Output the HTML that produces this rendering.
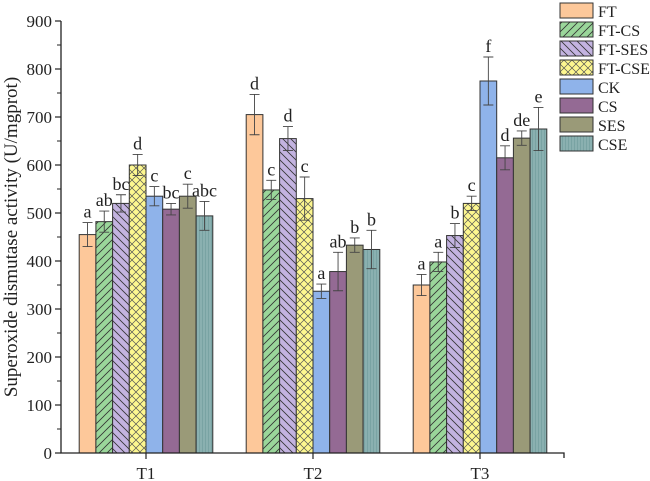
<!DOCTYPE html>
<html><head><meta charset="utf-8"><style>
body{margin:0;background:#fff}
svg{display:block;font-family:"Liberation Serif",serif}
</style></head><body>
<svg id="c" width="650" height="481">
<defs>
<pattern id="p-fwd" width="8" height="8" patternUnits="userSpaceOnUse"><rect width="8" height="8" fill="#9ad69a"/><path d="M0,8 L8,0 M-2,2 L2,-2 M6,10 L10,6" stroke="#333" stroke-width="0.8"/></pattern>
<pattern id="p-back" width="8" height="8" patternUnits="userSpaceOnUse"><rect width="8" height="8" fill="#c3b3e0"/><path d="M0,0 L8,8 M-2,6 L2,10 M6,-2 L10,2" stroke="#333" stroke-width="0.8"/></pattern>
<pattern id="p-cross" width="8" height="8" patternUnits="userSpaceOnUse"><rect width="8" height="8" fill="#fdf78f"/><path d="M0,0 L8,8 M0,8 L8,0" stroke="#555" stroke-width="0.7"/></pattern>
<pattern id="p-vert" width="3" height="3" patternUnits="userSpaceOnUse"><rect width="3" height="3" fill="#8ab0b0"/><path d="M1.5,0 L1.5,3" stroke="#6e9a9a" stroke-width="0.6"/></pattern>
</defs>
</svg>
<script>
const groups=['T1','T2','T3'];
const series=['FT','FT-CS','FT-SES','FT-CSE','CK','CS','SES','CSE'];
const valsT1=[455,482,520,600,535,508,535,494];
const valsT2=[705,548,655,530,337,378,433,424];
const valsT3=[350,398,453,520,775,615,656,675];
const errT1=[25,22,18,22,20,12,25,30];
const errT2=[42,20,25,45,15,40,15,40];
const errT3=[22,20,25,15,50,25,15,45];
const letT1=['a','ab','bc','d','c','bc','c','abc'];
const letT2=['d','c','d','c','a','ab','b','b'];
const letT3=['a','a','b','c','f','d','de','e'];
const yTicks=[0,100,200,300,400,500,600,700,800,900];
const vals=[valsT1,valsT2,valsT3],errs=[errT1,errT2,errT3],lets=[letT1,letT2,letT3];
const fills=['#fdc89a','url(#p-fwd)','url(#p-back)','url(#p-cross)','#8fb3ea','#946a94','#9a9a78','url(#p-vert)'];
const svg=document.getElementById('c'),NS='http://www.w3.org/2000/svg';
const X0=61,X1=564,Y0=453,Y9=21;
const y=v=>Y0-(v/900)*(Y0-Y9);
const gx=i=>146+i*167;
const BW=16.7;
function mk(t,a,p){const e=document.createElementNS(NS,t);for(const k in a)e.setAttribute(k,a[k]);(p||svg).appendChild(e);return e;}
for(let g=0;g<3;g++){for(let s=0;s<8;s++){
 const v=vals[g][s],er=errs[g][s],x=gx(g)-4*BW+s*BW;
 const r=mk('rect',{x:x,y:y(v),width:BW,height:Y0-y(v),fill:fills[s],stroke:'#333','stroke-width':1});
 
 
 const cx=x+BW/2;
 const eb=mk('path',{d:`M${cx},${y(v+er)}V${y(v-er)}M${cx-5},${y(v+er)}H${cx+5}M${cx-5},${y(v-er)}H${cx+5}`,stroke:'#444','stroke-width':0.9,fill:'none'});
 
 
 const t=mk('text',{x:cx,y:y(v+er)-5,'text-anchor':'middle','font-size':18,fill:'#222'});t.textContent=lets[g][s];
 
 
}}
mk('path',{d:`M${X0},${Y9}V${Y0}H${X1}V${Y0+5}`,stroke:'#222','stroke-width':1.3,fill:'none',});
yTicks.forEach(v=>{
 mk('line',{x1:X0-6,x2:X0,y1:y(v),y2:y(v),stroke:'#222','stroke-width':1.2});
 mk('line',{x1:X0-4,x2:X0,y1:y(v+50),y2:y(v+50),stroke:'#222','stroke-width':1}).style.display=v<900?'':'none';
 const t=mk('text',{x:X0-9,y:y(v)+6,'text-anchor':'end','font-size':17,fill:'#222'});t.textContent=v;
 
 
});
groups.forEach((gname,g)=>{
 mk('line',{x1:gx(g),x2:gx(g),y1:Y0,y2:Y0+6,stroke:'#222','stroke-width':1.2});
 const t=mk('text',{x:gx(g),y:Y0+26,'text-anchor':'middle','font-size':17,fill:'#222'});t.textContent=gname;
 
 
});
const yt=mk('text',{x:0,y:0,transform:'translate(17,237) rotate(-90)','text-anchor':'middle','font-size':19,fill:'#222'});
yt.textContent='Superoxide dismutase activity  (U/mgprot)';


series.forEach((s,i)=>{
 const ly=3+i*19;
 const r=mk('rect',{x:560,y:ly,width:33,height:15,fill:fills[i],stroke:'#333','stroke-width':1});
 
 
 const t=mk('text',{x:598,y:ly+14,'font-size':16,fill:'#222'});t.textContent=s;
 
 
});
</script>
</body></html>
